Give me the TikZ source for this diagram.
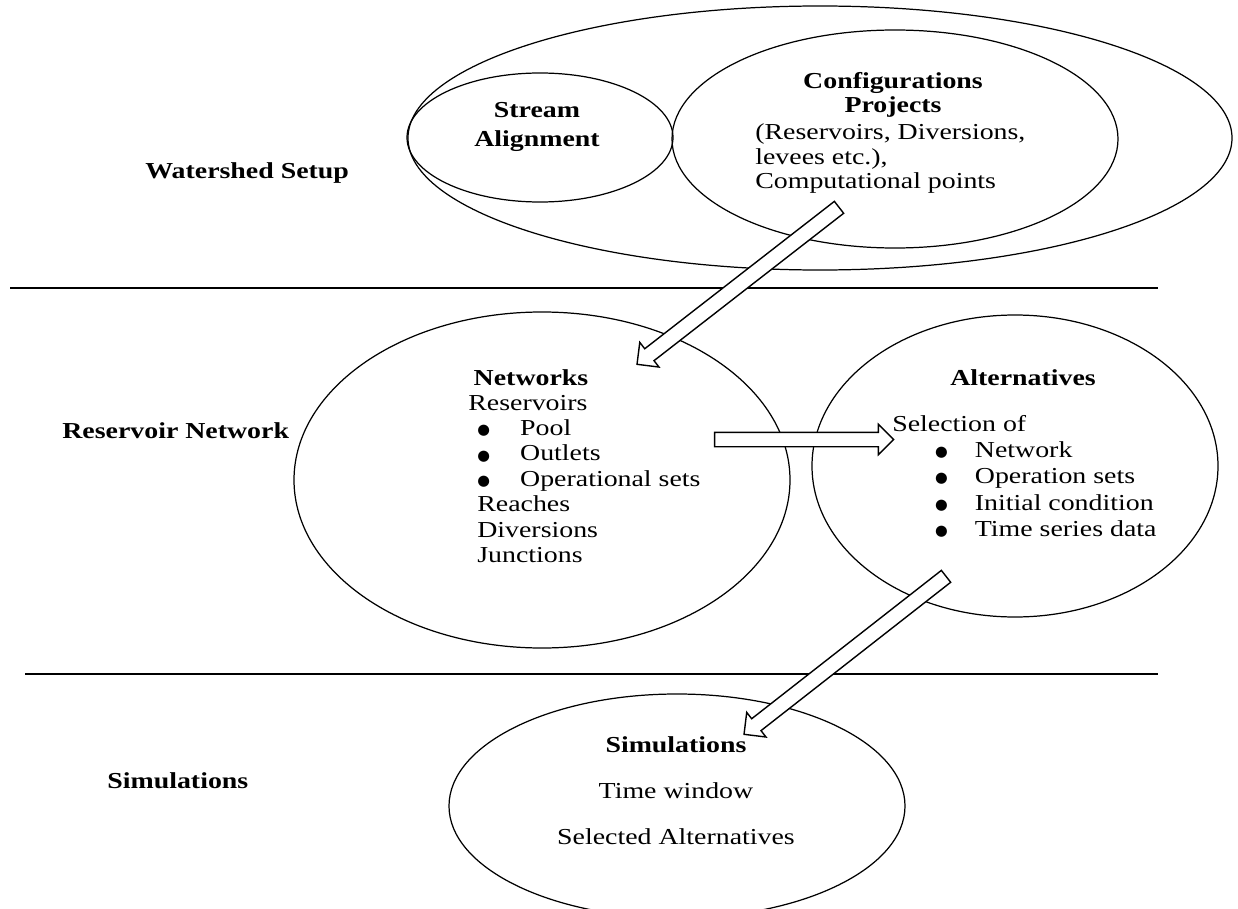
\documentclass[tikz,border=0pt]{standalone}
\usepackage{fontspec}
\setmainfont{Liberation Serif}[FakeStretch=1.22]
\newfontfamily\dejavu{DejaVu Sans}
\usetikzlibrary{shapes.geometric,shapes.arrows,calc}
\newcommand{\pxl}{0.02cm}
\newcommand{\bigbul}{\raisebox{0.5pt}{\dejavu\fontsize{8.3}{8.3}\selectfont ●}}
\begin{document}
\tikzset{
  ell/.style={draw, ellipse, line width=0.7pt, inner sep=0pt},
  sepline/.style={line width=0.8pt},
  blockarrow/.style={single arrow, draw, fill=white, line width=0.8pt, inner sep=0pt,
    minimum width=0pt, single arrow head extend=4.6pt, single arrow tip angle=90},
  lbl/.style={inner sep=0pt, font=\fontsize{13}{14.5}\selectfont},
  bf/.style={inner sep=0pt, font=\fontsize{13}{14.5}\selectfont\bfseries},
}
\begin{tikzpicture}[x=0.02cm, y=-0.02cm]
\useasboundingbox (0,0) rectangle (1238,909);
\clip (0,0) rectangle (1238,909);
% ellipses
\node[ell, minimum width=824*\pxl, minimum height=264*\pxl] (outer) at (820,138) {};
\node[ell, minimum width=266*\pxl, minimum height=129*\pxl] (stream) at (540,137.5) {};
\node[ell, minimum width=446*\pxl, minimum height=218*\pxl] (config) at (895,139) {};
\node[ell, minimum width=496*\pxl, minimum height=336*\pxl] (net) at (542,480) {};
\node[ell, minimum width=406*\pxl, minimum height=302*\pxl] (alt) at (1015,466) {};
\node[ell, minimum width=456*\pxl, minimum height=224*\pxl] (sim) at (677,806) {};
% separator lines
\coordinate (l1a) at (10,288); \coordinate (l1b) at (1158,288);
\coordinate (l2a) at (25,674); \coordinate (l2b) at (1158,674);
\draw[sepline] (l1a) -- (l1b);
\draw[sepline] (l2a) -- (l2b);
% section labels
\node[bf, anchor=base west] (ws) at (145,178) {Watershed Setup};
\node[bf, anchor=base west] (rn) at (62,438) {Reservoir Network};
\node[bf, anchor=base west] (sl) at (107,788) {Simulations};
% top texts
\node[bf, anchor=base] (stt) at (537,118) {\begin{tabular}[t]{@{}c@{}}Stream\\[1.9pt] Alignment\end{tabular}};
\node[bf, anchor=base] (cfgt) at (893,89) {\begin{tabular}[t]{@{}c@{}}Configurations\\[-0.9pt] Projects\end{tabular}};
\node[lbl, anchor=base west] (cfgb) at (755,140) {\begin{tabular}[t]{@{}l@{}}(Reservoirs, Diversions,\\[-0.6pt] levees etc.),\\[-0.6pt] Computational points\end{tabular}};
% networks
\node[bf, anchor=base] (nett) at (531,385) {Networks};
\node[lbl, anchor=base west] (netl) at (468,410) {\begin{tabular}[t]{@{}l@{}}Reservoirs\\
\hspace*{5.1pt}\makebox[24.4pt][l]{\bigbul}Pool\\
\hspace*{5.1pt}\makebox[24.4pt][l]{\bigbul}Outlets\\
\hspace*{5.1pt}\makebox[24.4pt][l]{\bigbul}Operational sets\\
\hspace*{5.1pt}Reaches\\
\hspace*{5.1pt}Diversions\\
\hspace*{5.1pt}Junctions\end{tabular}};
% alternatives
\node[bf, anchor=base] (altt) at (1023,385) {Alternatives};
\node[lbl, anchor=base west] (altl) at (892,431) {\begin{tabular}[t]{@{}l@{}}Selection of\\[0.5pt]
\hspace*{24.4pt}\makebox[22.6pt][l]{\bigbul}Network\\[0.5pt]
\hspace*{24.4pt}\makebox[22.6pt][l]{\bigbul}Operation sets\\[0.5pt]
\hspace*{24.4pt}\makebox[22.6pt][l]{\bigbul}Initial condition\\[0.5pt]
\hspace*{24.4pt}\makebox[22.6pt][l]{\bigbul}Time series data\end{tabular}};
% simulations
\node[lbl, anchor=base] (simt) at (676,752) {\begin{tabular}[t]{@{}c@{}}\textbf{Simulations}\\[11.9pt] Time window\\[11.9pt] Selected Alternatives\end{tabular}};
% block arrows
\coordinate (a1t) at (842,205); \coordinate (a1h) at (640,362);
\coordinate (a2t) at (711,439.5); \coordinate (a2h) at (890,439.5);
\coordinate (a3t) at (949,574); \coordinate (a3h) at (747,732);
\path let \p1=($(a1h)-(a1t)$), \n1={veclen(\x1,\y1)} in (a1t) -- (a1h)
  node[midway, sloped, allow upside down, blockarrow, minimum height=\n1] (arr1) {\rule{0pt}{7.8pt}};
\path let \p1=($(a2h)-(a2t)$), \n1={veclen(\x1,\y1)} in (a2t) -- (a2h)
  node[midway, sloped, allow upside down, blockarrow, minimum height=\n1] (arr2) {\rule{0pt}{7.4pt}};
\path let \p1=($(a3h)-(a3t)$), \n1={veclen(\x1,\y1)} in (a3t) -- (a3h)
  node[midway, sloped, allow upside down, blockarrow, minimum height=\n1] (arr3) {\rule{0pt}{7.8pt}};
\end{tikzpicture}
\end{document}
